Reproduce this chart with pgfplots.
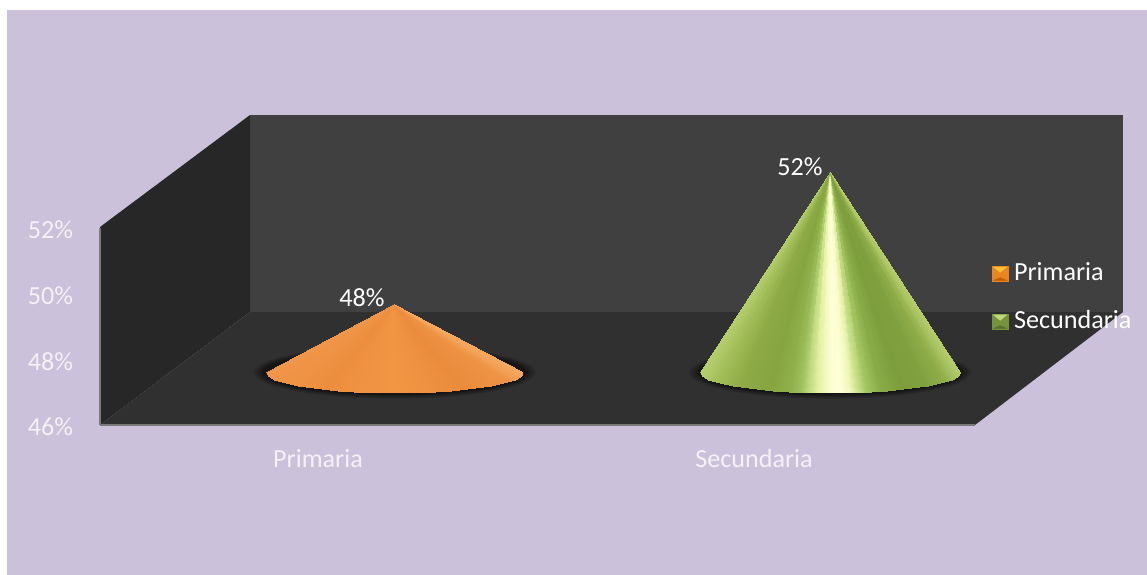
\documentclass[border=0pt]{standalone}
\usepackage{fontspec}
\setmainfont{Carlito}
\usepackage{pgfplots}
\usepackage{pgfplotstable}
\pgfplotsset{compat=1.18}

\definecolor{lilac}{RGB}{204,193,218}
\definecolor{backwall}{RGB}{64,64,64}
\definecolor{sidewall}{RGB}{39,39,39}
\definecolor{floorcol}{RGB}{48,48,48}
\definecolor{edgecol}{RGB}{122,122,122}
\definecolor{tickcol}{RGB}{244,242,247}

% cone surface, unit size: row k=1 is the tip, row k=0 the front of the base
\pgfplotstableread{
u v k
-1 0 1
-0.985 0 1
-0.9375 0 1
-0.875 0 1
-0.8125 0 1
-0.75 0 1
-0.6875 0 1
-0.625 0 1
-0.5625 0 1
-0.5 0 1
-0.4375 0 1
-0.375 0 1
-0.3125 0 1
-0.25 0 1
-0.1875 0 1
-0.125 0 1
-0.0625 0 1
0 0 1
0.0625 0 1
0.125 0 1
0.1875 0 1
0.25 0 1
0.3125 0 1
0.375 0 1
0.4375 0 1
0.5 0 1
0.5625 0 1
0.625 0 1
0.6875 0 1
0.75 0 1
0.8125 0 1
0.875 0 1
0.9375 0 1
0.985 0 1
1 0 1
-1 0 0
-0.985 -0.173 0
-0.9375 -0.348 0
-0.875 -0.484 0
-0.8125 -0.583 0
-0.75 -0.661 0
-0.6875 -0.726 0
-0.625 -0.781 0
-0.5625 -0.827 0
-0.5 -0.866 0
-0.4375 -0.899 0
-0.375 -0.927 0
-0.3125 -0.950 0
-0.25 -0.968 0
-0.1875 -0.982 0
-0.125 -0.992 0
-0.0625 -0.998 0
0 -1 0
0.0625 -0.998 0
0.125 -0.992 0
0.1875 -0.982 0
0.25 -0.968 0
0.3125 -0.950 0
0.375 -0.927 0
0.4375 -0.899 0
0.5 -0.866 0
0.5625 -0.827 0
0.625 -0.781 0
0.6875 -0.726 0
0.75 -0.661 0
0.8125 -0.583 0
0.875 -0.484 0
0.9375 -0.348 0
0.985 -0.173 0
1 0 0
}\conetable

% unit ellipse for the dark halo under each cone
\pgfplotstableread{
c s
1 0
0.966 0.259
0.866 0.5
0.707 0.707
0.5 0.866
0.259 0.966
0 1
-0.259 0.966
-0.5 0.866
-0.707 0.707
-0.866 0.5
-0.966 0.259
-1 0
-0.966 -0.259
-0.866 -0.5
-0.707 -0.707
-0.5 -0.866
-0.259 -0.966
0 -1
0.259 -0.966
0.5 -0.866
0.707 -0.707
0.866 -0.5
0.966 -0.259
}\halotable

\pgfplotsset{
  colormap={conegreen}{
    rgb255(0pt)=(181,206,110); rgb255(15pt)=(164,192,90); rgb255(40pt)=(141,170,69);
    rgb255(70pt)=(134,165,64); rgb255(90pt)=(143,176,74); rgb255(100pt)=(159,192,94);
    rgb255(108pt)=(192,218,128); rgb255(118pt)=(230,242,166); rgb255(130pt)=(251,253,208);
    rgb255(140pt)=(255,255,216); rgb255(150pt)=(240,248,184); rgb255(158pt)=(200,224,136);
    rgb255(166pt)=(164,197,98); rgb255(180pt)=(138,172,72); rgb255(200pt)=(126,158,62);
    rgb255(225pt)=(128,160,64); rgb255(245pt)=(144,174,74); rgb255(260pt)=(180,204,108)
  },
  colormap={coneorange}{
    rgb255(0pt)=(240,150,72); rgb255(60pt)=(236,142,62); rgb255(130pt)=(243,150,68);
    rgb255(200pt)=(234,140,60); rgb255(245pt)=(238,146,68); rgb255(260pt)=(245,168,96)
  },
}

% halo layer: centre x, half width, half height (in % units)
\newcommand{\halo}[3]{%
  \addplot[draw=none,fill=black,fill opacity=0.14,smooth cycle,forget plot]
    table[x expr=#1+#2*\thisrow{c},y expr=47.6+#3*\thisrow{s}] {\halotable};}
% cone: centre x, half width, value, colormap
\newcommand{\cone}[4]{%
  \addplot[surf,shader=interp,colormap name=#4,mesh/rows=2,mesh/cols=35,
    point meta=explicit,forget plot]
    table[x expr=#1+(1-\thisrow{k})*#2*\thisrow{u},
          y expr=\thisrow{k}*(#3+1.7)+(1-\thisrow{k})*(47.6+0.62*\thisrow{v}),
          meta=u] {\conetable};}

\begin{document}
\fontsize{19.6}{23}\selectfont
\begin{tikzpicture}
  % walls and floor, in pixel positions of the picture
  \begin{axis}[
      at={(0pt,0pt)},anchor=south west,
      scale only axis,width=860.25pt,height=431.25pt,
      xmin=0,xmax=1147,ymin=0,ymax=575,y dir=reverse,
      axis lines=none,clip=false,
    ]
    \addplot[fill=white,draw=none] coordinates {(0,0) (1147,0) (1147,575) (0,575)} -- cycle;
    \addplot[fill=lilac,draw=none] coordinates {(7,10) (1147,10) (1147,575) (7,575)} -- cycle;
    \addplot[fill=backwall,draw=none] coordinates {(250,115) (1123,115) (1123,312) (250,312)} -- cycle;
    \addplot[fill=sidewall,draw=none] coordinates {(100,227) (250,115) (250,312) (100,425)} -- cycle;
    \addplot[fill=floorcol,draw=none] coordinates {(100,425) (250,312) (1123,312) (975,425)} -- cycle;
  \end{axis}
  % value axis: x in pixels of the picture, y in percent
  \begin{axis}[
      at={(75pt,112.5pt)},anchor=south west,
      scale only axis,width=656.25pt,height=147.75pt,
      xmin=100,xmax=975,ymin=46,ymax=52,
      clip=false,
      axis x line=bottom,axis y line=left,
      axis line style={edgecol,line width=1.5pt,-},
      major tick length=0pt,
      xtick={318,754},xticklabels={Primaria,Secundaria},
      ytick={46,48,50,52},yticklabels={46\%,48\%,50\%,52\%},
      tick label style={font=\fontsize{19.6}{23}\selectfont,text=tickcol},
      xticklabel style={yshift=-11.3pt},
      yticklabel style={xshift=-13.5pt,yshift=-1.5pt},
      point meta min=-1,point meta max=1,
      legend style={at={(1.0194,0.825)},anchor=north west,draw=none,fill=none,
        font=\fontsize{19.6}{23}\selectfont,text=white,row sep=19.5pt,inner sep=0pt,
        nodes={inner sep=0pt},
        /tikz/column 2/.style={column sep=0pt},
        /tikz/column 1/.style={column sep=4.5pt}},
      legend cell align=left,
    ]
    \halo{394.5}{141}{0.80}
    \halo{394.5}{138}{0.76}
    \halo{394.5}{135.5}{0.73}
    \halo{394.5}{133.5}{0.70}
    \halo{394.5}{132}{0.68}
    \halo{830}{141}{0.80}
    \halo{830}{138}{0.76}
    \halo{830}{135.5}{0.73}
    \halo{830}{133.5}{0.70}
    \halo{830}{132}{0.68}
    \cone{394.5}{128.5}{48}{coneorange}
    \cone{830}{130}{52}{conegreen}

    \node[text=white,anchor=south] at (axis cs:362,49.33) {48\%};
    \node[text=white,anchor=south] at (axis cs:800,53.33) {52\%};

    \addlegendimage{legend image code/.code={
      \fill[orange!65!brown!95!white] (0pt,-5.8pt) rectangle (11.5pt,5.8pt);
      \fill[yellow!40!orange!80!white] (1pt,5pt) -- (10.5pt,5pt) -- (5.75pt,1pt) -- cycle;
      \fill[orange!75!black] (1pt,-5pt) -- (10.5pt,-5pt) -- (5.75pt,-3pt) -- cycle;}}
    \addlegendentry{Primaria}
    \definecolor{legmid}{RGB}{118,146,60}
    \definecolor{legtop}{RGB}{190,214,120}
    \definecolor{legbot}{RGB}{88,112,44}
    \addlegendimage{legend image code/.code={
      \fill[legmid] (0pt,-5.8pt) rectangle (11.5pt,5.8pt);
      \fill[legtop] (1pt,5pt) -- (10.5pt,5pt) -- (5.75pt,1pt) -- cycle;
      \fill[legbot] (1pt,-5pt) -- (10.5pt,-5pt) -- (5.75pt,-3pt) -- cycle;}}
    \addlegendentry{Secundaria}
  \end{axis}
\end{tikzpicture}
\end{document}
